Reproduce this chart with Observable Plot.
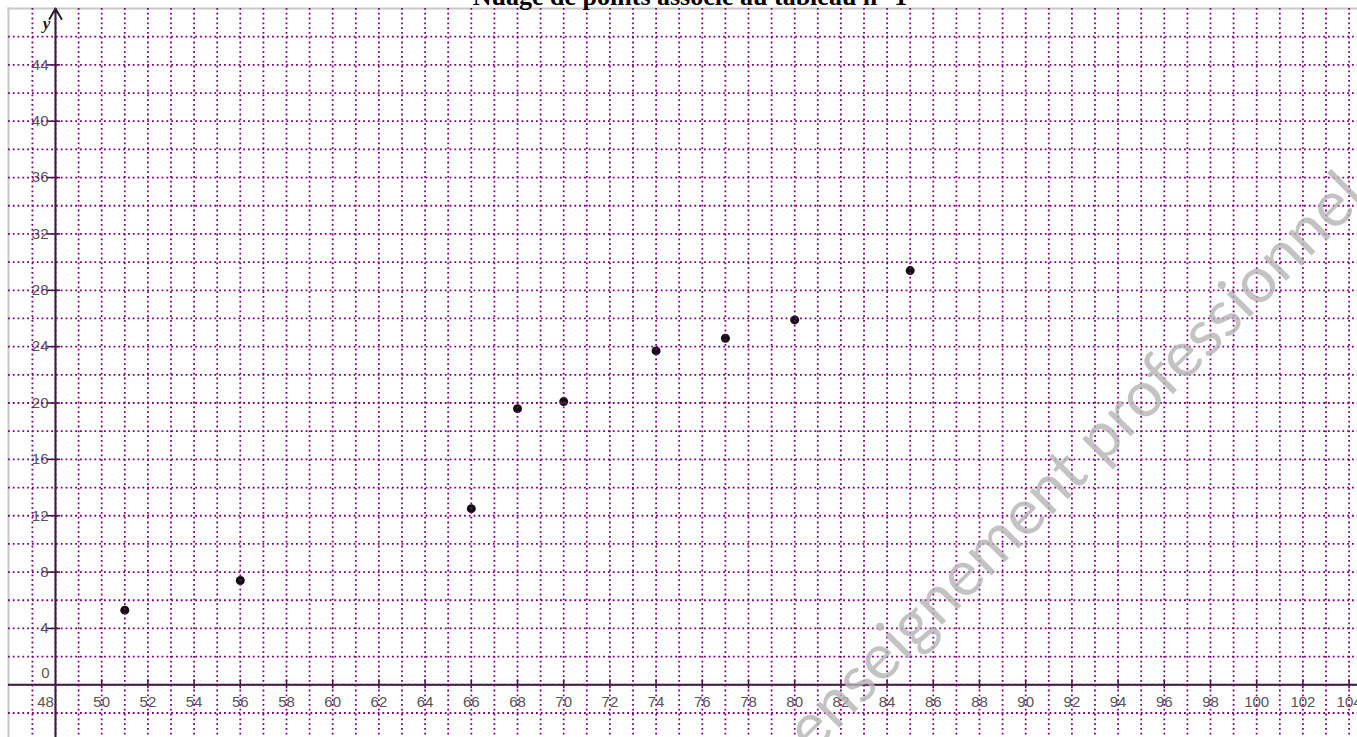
<!DOCTYPE html>
<html>
<head>
<meta charset="utf-8">
<script src="https://cdn.jsdelivr.net/npm/d3@7"></script>
<script src="https://cdn.jsdelivr.net/npm/@observablehq/plot@0.6"></script>
<style>
  html, body { margin: 0; padding: 0; background: #fff; overflow: hidden; }
  #wrap { position: relative; width: 1357px; height: 737px; overflow: hidden; }
  #title { position: absolute; left: 0; width: 1380px; top: -16px; text-align: center;
           font: bold 26px/26px "Liberation Serif", "Times New Roman", serif; color: #000; z-index: 3; white-space: nowrap; }
  #chart { position: absolute; left: 0; top: 0; }
  #wm { position: absolute; left: 0; top: 0; pointer-events: none; z-index: 2; }
</style>
</head>
<body>
<div id="wrap">
  <div id="chart"></div>
  <div id="title">Nuage de points associé au tableau n° 1</div>
  <svg id="wm" width="1357" height="737">
    <text x="1368" y="199" text-anchor="end" transform="rotate(-45 1368 199)"
          font-family="Lato, 'Open Sans', sans-serif" font-weight="400" font-size="64"
          fill="#b4b4b4" fill-opacity="0.8">enseignement professionnel</text>
  </svg>
</div>
<script>
// Data points (x, y)
const xValues = [51, 56, 66, 68, 70, 74, 77, 80, 85];
const yValues = [5.3, 7.4, 12.5, 19.6, 20.1, 23.7, 24.6, 25.9, 29.4];

// Tick labels
const xTickLabels = [48, 50, 52, 54, 56, 58, 60, 62, 64, 66, 68, 70, 72, 74, 76, 78, 80, 82, 84, 86, 88, 90, 92, 94, 96, 98, 100, 102, 104];
const yTickLabels = [0, 4, 8, 12, 16, 20, 24, 28, 32, 36, 40, 44];

// Grid positions
const xGrid = [47, 48, 49, 50, 51, 52, 53, 54, 55, 56, 57, 58, 59, 60, 61, 62, 63, 64, 65, 66, 67, 68, 69, 70, 71, 72, 73, 74, 75, 76, 77, 78, 79, 80, 81, 82, 83, 84, 85, 86, 87, 88, 89, 90, 91, 92, 93, 94, 95, 96, 97, 98, 99, 100, 101, 102, 103, 104];
const yGrid = [-2, 0, 2, 4, 6, 8, 10, 12, 14, 16, 18, 20, 22, 24, 26, 28, 30, 32, 34, 36, 38, 40, 42, 44, 46];

const points = xValues.map((x, i) => ({x, y: yValues[i]}));

const xMin = 45.965, xMax = 104.364, yMin = -3.74, yMax = 48.0;
const purple = "#800080";
const labelFont = "'Liberation Sans', Arial, sans-serif";

const chart = Plot.plot({
  width: 1357,
  height: 737,
  marginTop: 8,
  marginLeft: 8,
  marginRight: 0,
  marginBottom: 0,
  x: {domain: [xMin, xMax], axis: null},
  y: {domain: [yMin, yMax], axis: null},
  style: {background: "white", fontFamily: labelFont, overflow: "hidden"},
  marks: [
    Plot.frame({anchor: "top", stroke: "#c8c8c8", strokeWidth: 2}),
    Plot.frame({anchor: "left", stroke: "#c8c8c8", strokeWidth: 2}),
    // x axis line
    Plot.ruleY([0], {stroke: "#222", strokeWidth: 2}),
    // y axis line with arrow
    Plot.arrow([0], {x1: 48, x2: 48, y1: yMin, y2: yMax, stroke: "#222", strokeWidth: 2, headLength: 9}),
    // x ticks
    Plot.ruleX(xTickLabels.filter(d => d !== 48), {x: d => d, y1: 0, y2: 0, insetTop: -5, insetBottom: -4, stroke: "#222", strokeWidth: 1.5}),
    // y ticks
    Plot.ruleY(yTickLabels.filter(d => d !== 0), {y: d => d, x1: 48, x2: 48, insetLeft: -7, insetRight: -5, stroke: "#222", strokeWidth: 1.5}),
    // x labels
    Plot.text(xTickLabels.filter(d => d !== 48), {x: d => d, y: 0, dy: 17, text: d => String(d), fontSize: 15, fill: "#555", fontFamily: labelFont}),
    Plot.text(xTickLabels.filter(d => d === 48), {x: d => d, y: 0, dx: -10, dy: 17, text: d => String(d), fontSize: 15, fill: "#555", fontFamily: labelFont}),
    // y labels
    Plot.text(yTickLabels.filter(d => d !== 0), {x: 48, y: d => d, dx: -7, textAnchor: "end", text: d => String(d), fontSize: 15, fill: "#555", fontFamily: labelFont}),
    Plot.text(yTickLabels.filter(d => d === 0), {x: 48, y: d => d, dx: -6, dy: -12, textAnchor: "end", text: d => String(d), fontSize: 15, fill: "#555", fontFamily: labelFont}),
    // y axis name
    Plot.text(["y"], {x: 48, y: yMax, dx: -9, dy: 15, text: d => d, fontSize: 17, fontStyle: "italic", fontWeight: "bold", fontFamily: "'Liberation Serif', serif", fill: "#222"}),
    // points
    Plot.dot(points, {x: "x", y: "y", r: 4.5, fill: "#111", stroke: "none"}),
    // dotted grid on top
    Plot.ruleX(xGrid, {x: d => d, stroke: purple, strokeWidth: 1.8, strokeDasharray: "1.8,3"}),
    Plot.ruleY(yGrid, {y: d => d, stroke: purple, strokeWidth: 1.8, strokeDasharray: "1.8,3"})
  ]
});
document.getElementById("chart").appendChild(chart);
</script>
</body>
</html>
